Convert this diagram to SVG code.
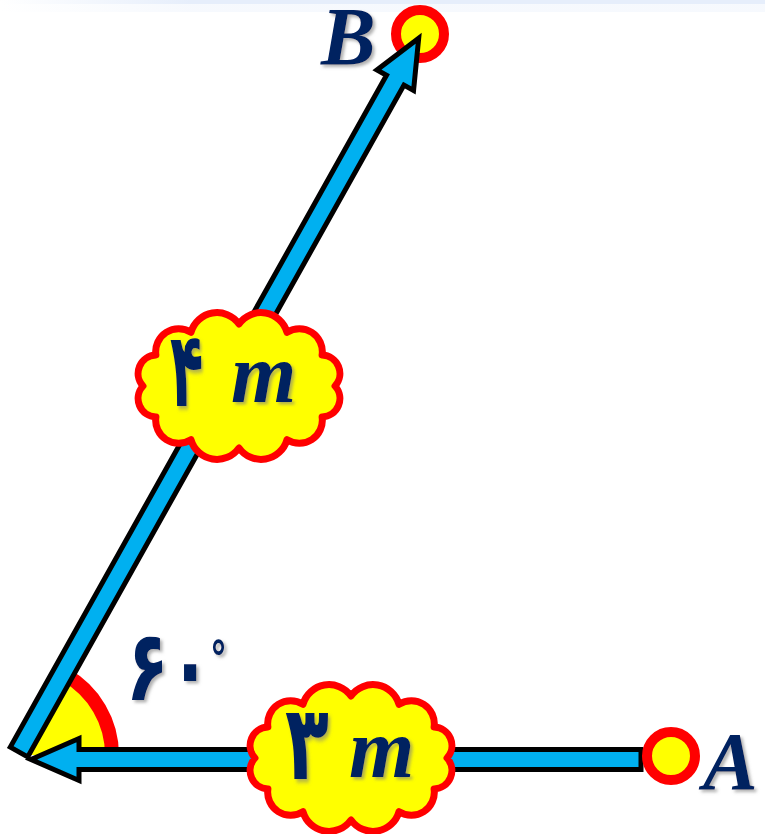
<svg xmlns="http://www.w3.org/2000/svg" xmlns:xlink="http://www.w3.org/1999/xlink" width="765" height="834" viewBox="0 0 765 834">
<style>
.arrow{fill:#00B0F0;stroke:#000;stroke-width:5;stroke-linejoin:miter;stroke-miterlimit:10}
.pt{fill:#FFFF00;stroke:#FF0000;stroke-width:10}
.cloud{fill:#FFFF00;stroke:#FF0000;stroke-width:7;stroke-linejoin:round}
.lbl{font-family:"Liberation Serif",serif;font-style:italic;font-weight:bold;fill:#002060}
.fa{font-family:"DejaVu Sans","Noto Sans",sans-serif;font-weight:bold;fill:#002060}
</style>
<defs>
<linearGradient id="topband" x1="0" y1="0" x2="1" y2="0">
<stop offset="0" stop-color="#E6EEFB" stop-opacity="0"/>
<stop offset="0.25" stop-color="#E6EEFB" stop-opacity="1"/>
<stop offset="1" stop-color="#E6EEFB" stop-opacity="1"/>
</linearGradient>
<filter id="sh" x="-20%" y="-20%" width="150%" height="150%">
<feDropShadow dx="2.5" dy="2.5" stdDeviation="1.5" flood-color="#7f7f7f" flood-opacity="0.6"/>
</filter>
<path id="cloud" d="M96,0 A18.5,18.5 0 0 1 83.1,31 A23,23 0 0 1 48,53.7 A27,27 0 0 1 0,62 A27,27 0 0 1 -48,53.7 A23,23 0 0 1 -83.1,31 A18.5,18.5 0 0 1 -96,0 A18.5,18.5 0 0 1 -83.1,-31 A23,23 0 0 1 -48,-53.7 A27,27 0 0 1 0,-62 A27,27 0 0 1 48,-53.7 A23,23 0 0 1 83.1,-31 A18.5,18.5 0 0 1 96,0 Z"/>
</defs>
<rect width="765" height="834" fill="#fff"/>
<rect x="0" y="0" width="765" height="4" fill="url(#topband)"/>
<rect x="0" y="4" width="765" height="8" fill="url(#topband)" opacity="0.35"/>

<g id="angle">
<path d="M20,755 L112,755 A92,92 0 0 0 64.9,674.7 Z" fill="#FFFF00"/>
<path d="M112,755 A92,92 0 0 0 64.9,674.7" fill="none" stroke="#FF0000" stroke-width="14"/>
</g>

<g id="pointB">
<circle class="pt" cx="420" cy="34" r="24"/>
<text class="lbl" x="321" y="64" font-size="82" filter="url(#sh)">B</text>
</g>

<g id="connectors">
<polygon class="arrow" transform="translate(19,752) rotate(-60.75)" points="0,-10 770,-10 770,-21 818,0 770,21 770,10 0,10"/>
<polygon class="arrow" transform="translate(641,759.5) rotate(180)" points="0,-10 562,-10 562,-21 610,0 562,21 562,10 0,10"/>
</g>

<g id="pointA">
<circle class="pt" cx="671" cy="756" r="24"/>
<text class="lbl" x="703" y="789" font-size="82" filter="url(#sh)">A</text>
</g>

<g id="angleLabel" filter="url(#sh)">
<text class="fa" transform="translate(126,700) scale(1,1.4)" font-size="70">۶۰<tspan x="84" y="-18" font-size="34">°</tspan></text>
</g>

<g id="label4m">
<use xlink:href="#cloud" href="#cloud" class="cloud" x="239" y="386"/>
<text class="fa" transform="translate(170,406) scale(0.68,1.3)" font-size="80" filter="url(#sh)">۴</text>
<text class="lbl" x="231" y="402" font-size="84" filter="url(#sh)">m</text>
</g>

<g id="label3m">
<use xlink:href="#cloud" href="#cloud" class="cloud" x="351" y="758"/>
<text class="fa" transform="translate(285,779) scale(0.9,1.3)" font-size="80" filter="url(#sh)">۳</text>
<text class="lbl" x="349" y="777" font-size="84" filter="url(#sh)">m</text>
</g>
</svg>
